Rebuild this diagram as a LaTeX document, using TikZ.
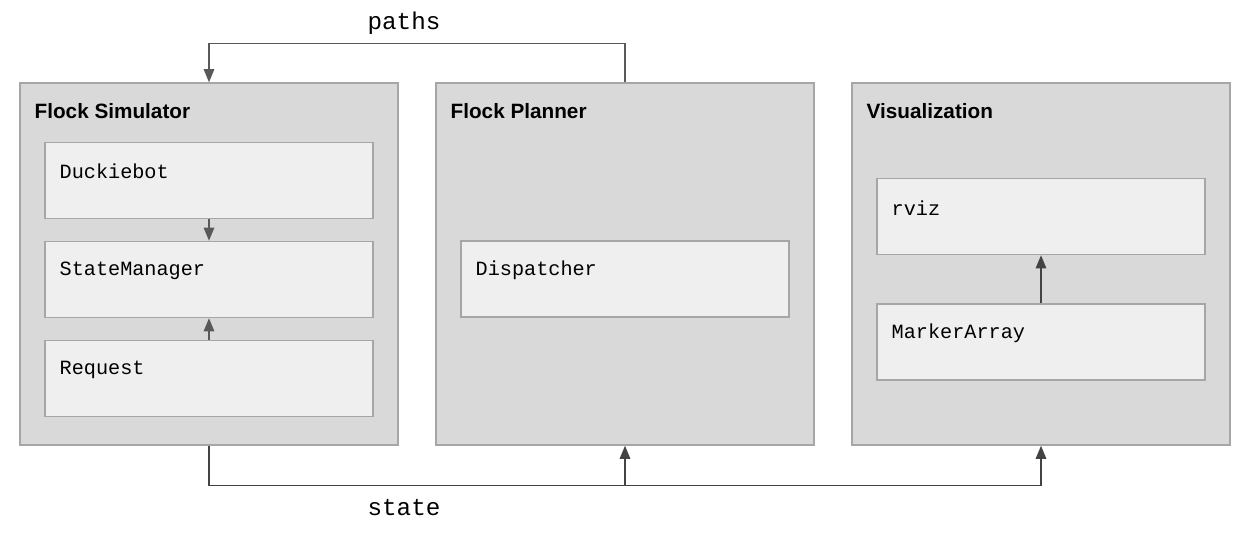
\documentclass[tikz,border=0pt]{standalone}
\usepackage{fontspec}
\setmainfont{Liberation Sans}
\setmonofont{Liberation Mono}
\usetikzlibrary{positioning,arrows.meta}
\definecolor{outerfill}{HTML}{D9D9D9}
\definecolor{innerfill}{HTML}{EFEFEF}
\definecolor{boxline}{HTML}{A6A6A6}
\definecolor{linegray}{HTML}{595959}
\definecolor{linedark}{HTML}{434343}
\tikzset{
    module/.style={draw=boxline, fill=outerfill, line width=0.85pt,
        minimum width=7.56cm, minimum height=7.24cm, inner sep=0pt},
    part/.style={draw=boxline, fill=innerfill, line width=0.85pt,
        minimum width=6.56cm, minimum height=1.52cm, inner sep=0pt},
    modtitle/.style={anchor=west, inner sep=0pt, font=\fontsize{11.8}{14}\selectfont\bfseries},
    parttext/.style={anchor=west, inner sep=0pt, font=\fontsize{11.5}{13}\selectfont\ttfamily},
    msgtext/.style={inner sep=0pt, font=\fontsize{13.8}{16}\selectfont\ttfamily},
    conn/.style={draw=linegray, line width=0.8pt, -{Triangle[length=7.5pt,width=6pt]}},
    conndark/.style={conn, draw=linedark}
}
\begin{document}
\begin{tikzpicture}[x=0.02cm, y=-0.02cm]
    \useasboundingbox (0,0) rectangle (1255,539);

    % the three modules
    \node[module] (sim) at (209,264) {};
    \node[module] (planner) at (625,264) {};
    \node[module] (vis) at (1041,264) {};
    \node[modtitle] (simtitle) at ([shift={(15,29)}]sim.north west) {Flock Simulator};
    \node[modtitle] (plannertitle) at ([shift={(15,29)}]planner.north west) {Flock Planner};
    \node[modtitle] (vistitle) at ([shift={(15,29)}]vis.north west) {Visualization};

    % parts of the simulator
    \node[part] (duckiebot) at (209,180.5) {};
    \node[part, below=0.43cm of duckiebot] (statemgr) {};
    \node[part, below=0.43cm of statemgr] (request) {};
    \node[parttext] (duckietext) at ([shift={(15,30)}]duckiebot.north west) {Duckiebot};
    \node[parttext] (statetext) at ([shift={(15,30)}]statemgr.north west) {StateManager};
    \node[parttext] (requesttext) at ([shift={(15,30)}]request.north west) {Request};

    % planner and visualization parts
    \node[part] (dispatcher) at (625,279) {};
    \node[parttext] (dispatchtext) at ([shift={(15,30)}]dispatcher.north west) {Dispatcher};
    \node[part] (rviz) at (1041,216.5) {};
    \node[part] (markers) at (1041,342) {};
    \node[parttext] (rviztext) at ([shift={(15,30)}]rviz.north west) {rviz};
    \node[parttext] (markertext) at ([shift={(15,30)}]markers.north west) {MarkerArray};

    % arrows inside the modules
    \draw[conn] (duckiebot) -- (statemgr);
    \draw[conn] (request) -- (statemgr);
    \draw[conndark] (markers) -- (rviz);

    % paths from planner to simulator
    \draw[conn] (planner.north) -- ++(0,-39) -| (sim.north);
    \node[msgtext] (pathslabel) at (404,23) {paths};

    % state from simulator to planner and visualization
    \coordinate (bus) at (625,485);
    \draw[conndark] (sim.south) -- ++(0,40) -| (vis.south);
    \draw[conndark] (bus) -- (planner.south);
    \node[msgtext] (statelabel) at (404,508) {state};
\end{tikzpicture}
\end{document}
